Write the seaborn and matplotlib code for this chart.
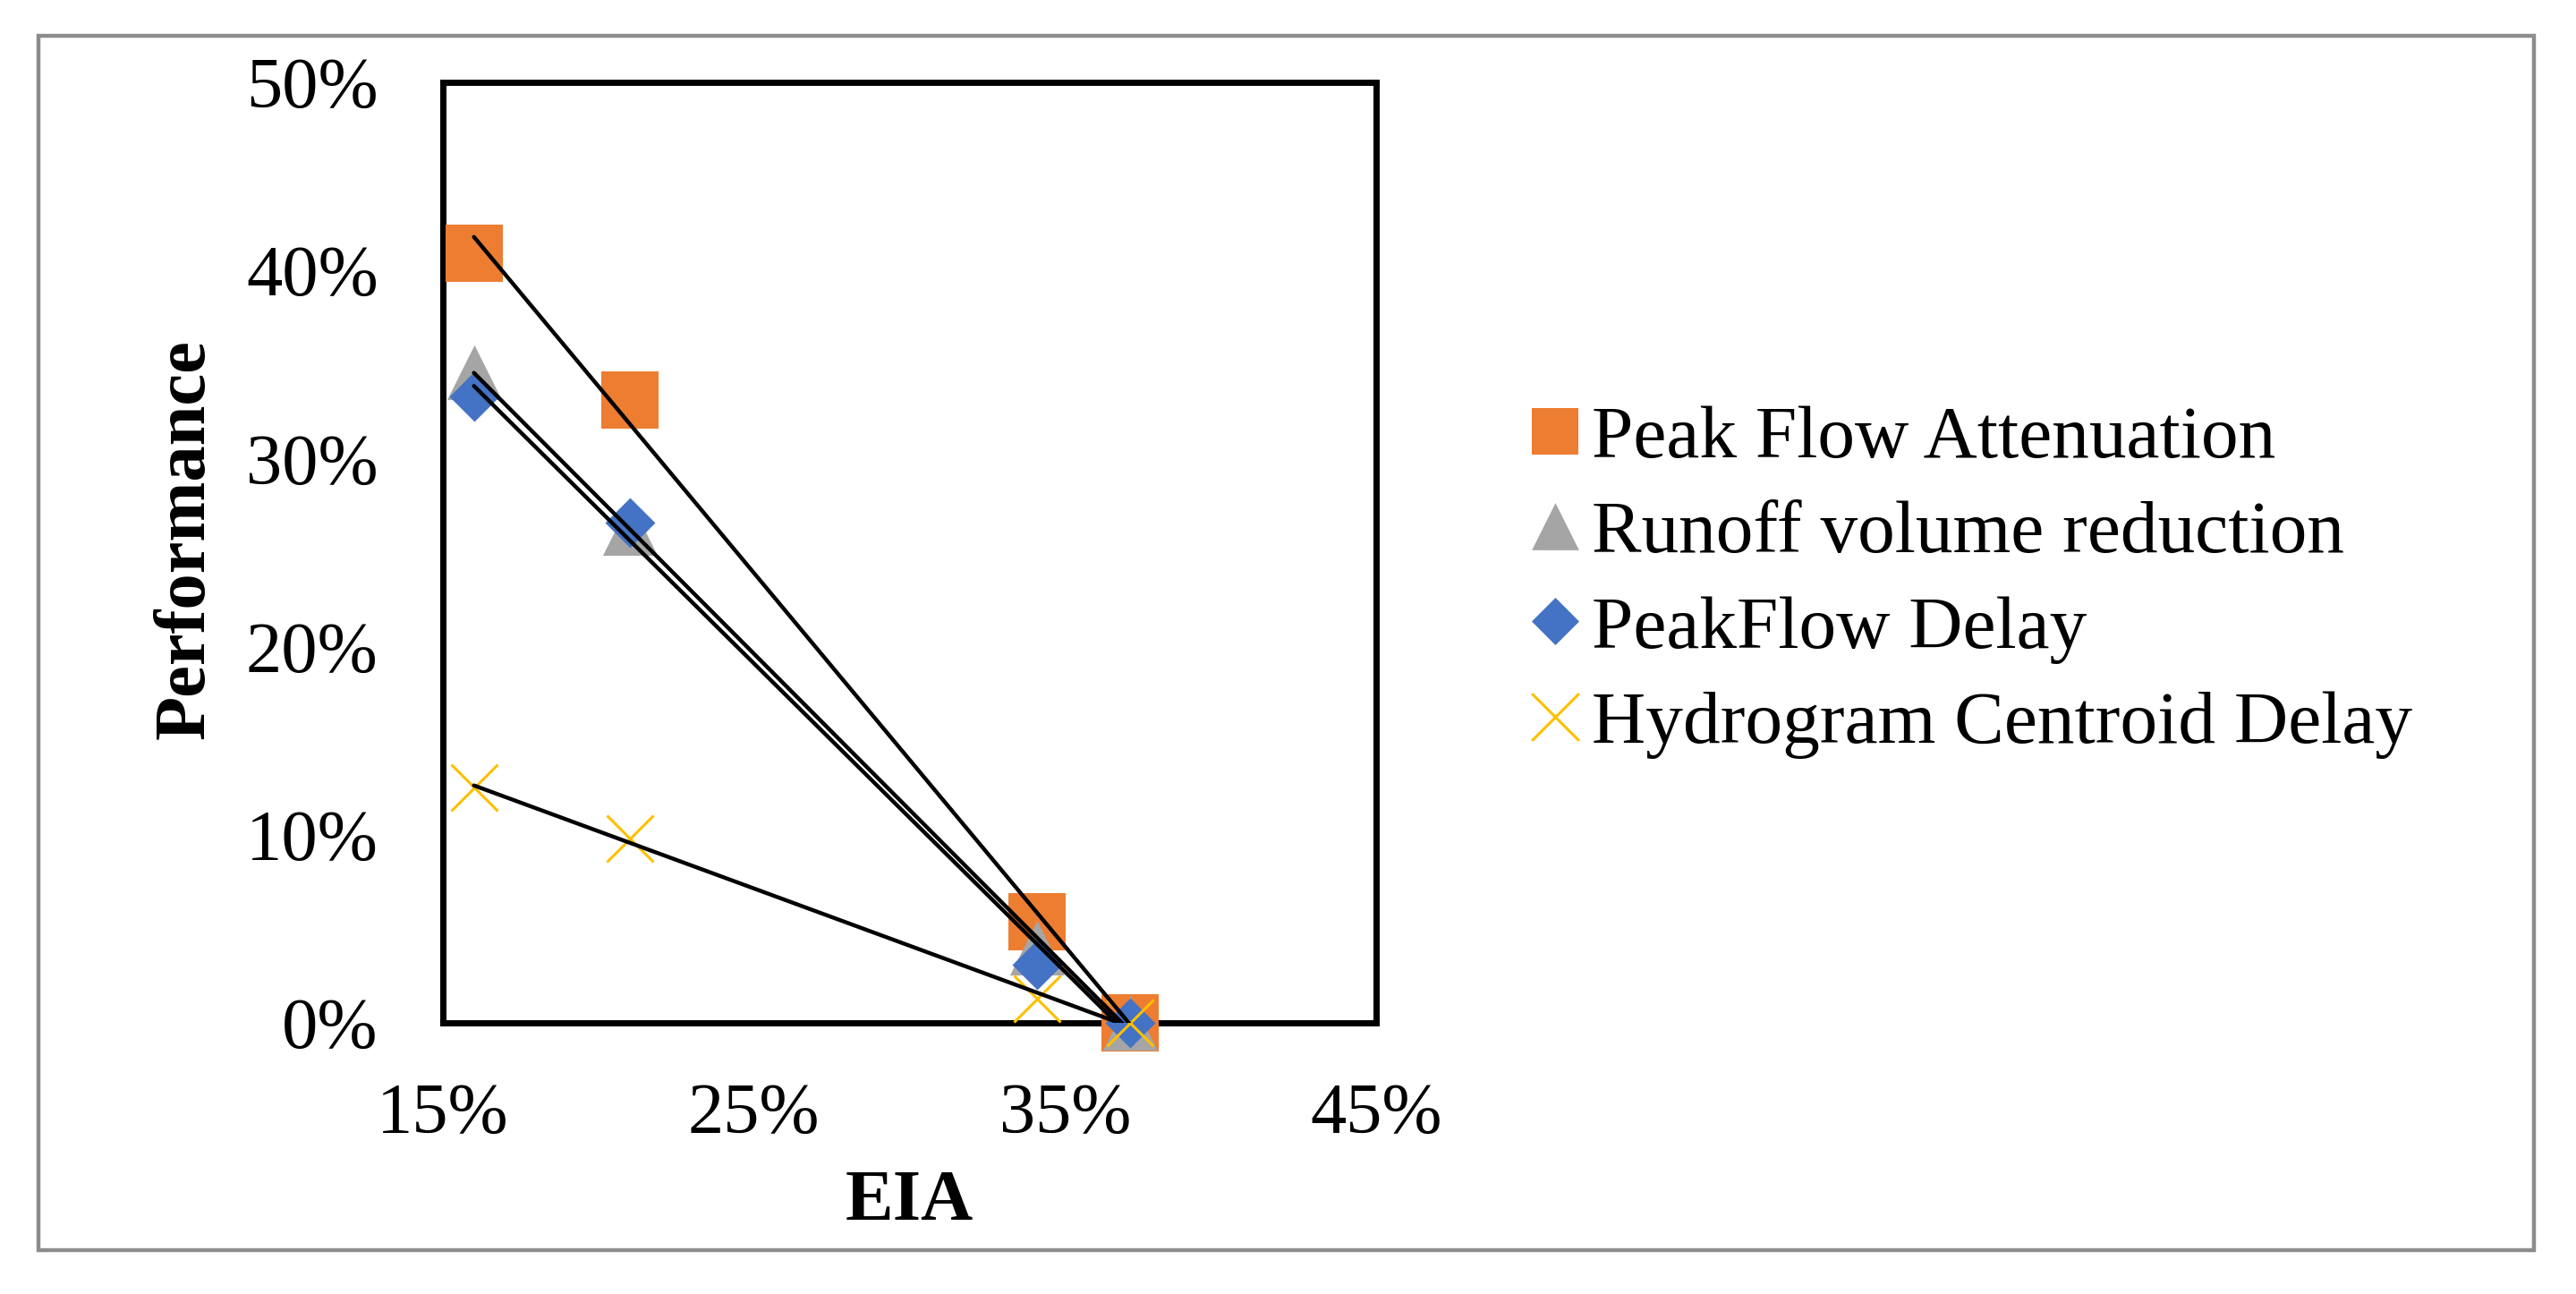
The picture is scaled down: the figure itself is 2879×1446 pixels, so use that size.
import numpy as np
import pandas as pd
import seaborn as sns
import matplotlib.pyplot as plt
from matplotlib.patches import Rectangle
from matplotlib.ticker import PercentFormatter

# data (percent)
eia = [16.0, 21.0, 34.1, 37.1]
peak_flow_att = [40.9, 33.1, 5.4, 0.0]
runoff_red = [34.6, 26.3, 4.0, 0.0]
peakflow_delay = [33.3, 26.6, 3.1, 0.0]
centroid_delay = [12.5, 9.8, 1.3, 0.0]

names = ["Peak Flow Attenuation", "Runoff volume reduction",
         "PeakFlow Delay", "Hydrogram Centroid Delay"]
colors = ["#ED7D31", "#A5A5A5", "#4472C4", "#FFC000"]
markers = ["s", "^", "D", "x"]
sizes = [2060, 1940, 810, 1400]
leg_sizes = [1444, 1444, 729, 1444]

df = pd.DataFrame({"EIA": eia * 4,
                   "Performance": peak_flow_att + runoff_red + peakflow_delay + centroid_delay,
                   "series": np.repeat(names, len(eia))})

sns.set_style("white")
plt.rcParams["font.family"] = ["Liberation Serif", "DejaVu Serif"]
plt.rcParams["text.color"] = "black"
plt.rcParams["axes.labelcolor"] = "black"

fig = plt.figure(figsize=(28.79, 14.46), dpi=100)
ax = fig.add_axes([0.1719, 0.2095, 0.5342 - 0.1719, 0.9364 - 0.2095])

# markers
for name, c, m, s in zip(names, colors, markers, sizes):
    sub = df[df["series"] == name]
    lw = 2.2 if m == "x" else 0
    sns.scatterplot(data=sub, x="EIA", y="Performance", marker=m, s=s,
                    color=c, linewidth=lw, label=name, ax=ax,
                    clip_on=False, zorder=3)

# linear trendlines
for name in names:
    sub = df[df["series"] == name]
    sns.regplot(data=sub, x="EIA", y="Performance", scatter=False, ci=None,
                truncate=True, color="black", ax=ax,
                line_kws={"linewidth": 3.2, "zorder": 4})

ax.set_xlim(15, 45)
ax.set_ylim(0, 50)
ax.set_xticks([15, 25, 35, 45])
ax.set_yticks([0, 10, 20, 30, 40, 50])
ax.xaxis.set_major_formatter(PercentFormatter(100, decimals=0))
ax.yaxis.set_major_formatter(PercentFormatter(100, decimals=0))
ax.tick_params(axis="both", direction="out", length=19, width=5,
               labelsize=58, colors="black")
ax.tick_params(axis="x", pad=29)
ax.tick_params(axis="y", pad=33)
for sp in ax.spines.values():
    sp.set_visible(True)
    sp.set_color("black")
    sp.set_linewidth(5)

ax.set_xlabel("EIA", fontsize=58, fontweight="bold")
ax.set_ylabel("Performance", fontsize=58, fontweight="bold")
ax.xaxis.set_label_coords(0.5, -0.156)
ax.yaxis.set_label_coords(-0.240, 0.514)

leg = ax.legend(loc="center left", bbox_to_anchor=(0.579, 0.5503),
                bbox_transform=fig.transFigure, frameon=False, fontsize=60,
                handlelength=0.7, handletextpad=0.15, borderpad=0,
                labelspacing=0.36, scatterpoints=1, scatteryoffsets=[0.5])
for h, s in zip(leg.legend_handles, leg_sizes):
    h.set_sizes([s])
for t in leg.get_texts():
    t.set_color("black")

# outer chart border
fig.patches.append(Rectangle((0.01494, 0.0339), 0.9687, 0.9385,
                             transform=fig.transFigure, fill=False,
                             edgecolor="#8c8c8c", linewidth=3.2))

fig.savefig("out.png", dpi=100)
